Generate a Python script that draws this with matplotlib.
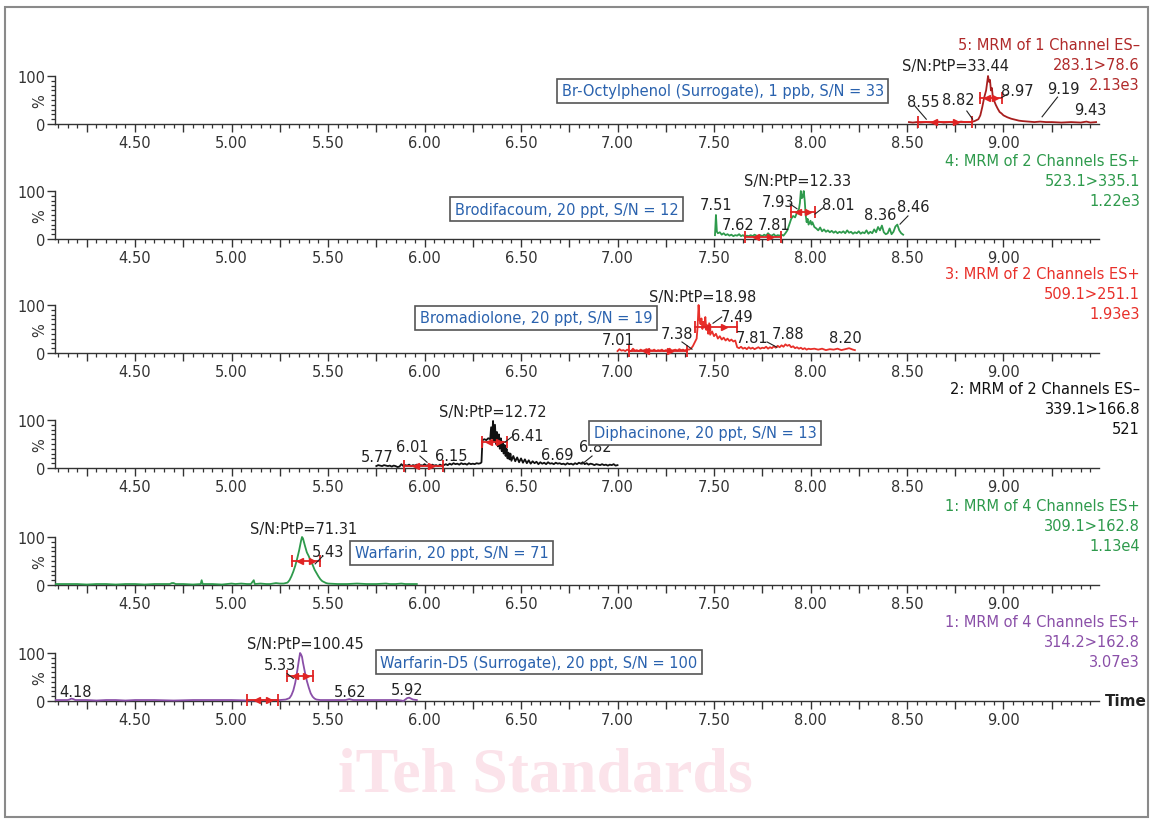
import matplotlib
matplotlib.use("Agg")
import matplotlib.pyplot as plt
from matplotlib.patches import Rectangle
from matplotlib.ticker import FixedLocator, FuncFormatter, MultipleLocator
from matplotlib.transforms import blended_transform_factory, offset_copy

# ---- chromatogram traces: (retention time, relative intensity %) ----
octyl = [(8.51, 4), (8.53, 3), (8.55, 4), (8.57, 3), (8.60, 4), (8.63, 3), (8.66, 5),
         (8.69, 3), (8.72, 4), (8.75, 3), (8.78, 5), (8.80, 4), (8.83, 4), (8.85, 6),
         (8.87, 10), (8.88, 18), (8.89, 35), (8.90, 55), (8.91, 70), (8.915, 85),
         (8.92, 100), (8.925, 88), (8.93, 92), (8.935, 70), (8.94, 75), (8.945, 55),
         (8.95, 50), (8.96, 40), (8.97, 32), (8.98, 25), (8.99, 22), (9.00, 18),
         (9.02, 14), (9.04, 11), (9.06, 9), (9.08, 7), (9.10, 6), (9.13, 5), (9.16, 4),
         (9.19, 5), (9.22, 4), (9.25, 4), (9.30, 3), (9.35, 4), (9.40, 3), (9.43, 5),
         (9.45, 3), (9.48, 4)]

brodifacoum = [(7.505, 8), (7.51, 50), (7.515, 15), (7.52, 12), (7.53, 14), (7.54, 9),
               (7.55, 12), (7.56, 8), (7.57, 10), (7.58, 7), (7.59, 9), (7.60, 6), (7.61, 8),
               (7.62, 7), (7.63, 10), (7.64, 6), (7.65, 8), (7.66, 5), (7.67, 7), (7.68, 6),
               (7.69, 8), (7.70, 6), (7.71, 9), (7.72, 7), (7.73, 6), (7.74, 8), (7.75, 6),
               (7.76, 9), (7.77, 7), (7.78, 12), (7.79, 8), (7.80, 7), (7.81, 10), (7.82, 6),
               (7.83, 8), (7.84, 7), (7.85, 9), (7.86, 7), (7.87, 12), (7.88, 18), (7.89, 30),
               (7.90, 42), (7.91, 48), (7.92, 45), (7.93, 55), (7.94, 62), (7.945, 75),
               (7.95, 100), (7.955, 85), (7.96, 88), (7.965, 100), (7.97, 80), (7.975, 50),
               (7.98, 35), (7.985, 42), (7.99, 30), (8.00, 38), (8.005, 30), (8.01, 35),
               (8.02, 25), (8.03, 22), (8.04, 18), (8.05, 24), (8.06, 16), (8.07, 20),
               (8.08, 15), (8.09, 18), (8.10, 14), (8.11, 17), (8.12, 13), (8.13, 16),
               (8.14, 12), (8.15, 15), (8.16, 13), (8.17, 16), (8.18, 12), (8.19, 18),
               (8.20, 13), (8.21, 15), (8.22, 11), (8.23, 14), (8.24, 12), (8.25, 16),
               (8.26, 11), (8.27, 14), (8.28, 12), (8.29, 18), (8.30, 11), (8.31, 15),
               (8.32, 12), (8.33, 20), (8.34, 14), (8.35, 25), (8.36, 18), (8.37, 28),
               (8.38, 14), (8.39, 10), (8.40, 12), (8.41, 22), (8.42, 10), (8.43, 15),
               (8.44, 26), (8.45, 30), (8.46, 18), (8.47, 12), (8.48, 9)]

bromadiolone = [(7.00, 4), (7.01, 8), (7.02, 5), (7.03, 6), (7.04, 4), (7.05, 7), (7.06, 5),
                (7.07, 4), (7.08, 9), (7.09, 5), (7.10, 6), (7.11, 4), (7.12, 7), (7.13, 5),
                (7.14, 6), (7.15, 8), (7.16, 4), (7.17, 6), (7.18, 5), (7.19, 7), (7.20, 4),
                (7.21, 6), (7.22, 5), (7.23, 7), (7.24, 4), (7.25, 6), (7.26, 5), (7.27, 9),
                (7.28, 5), (7.29, 6), (7.30, 7), (7.31, 5), (7.32, 8), (7.33, 6), (7.34, 7),
                (7.35, 5), (7.36, 8), (7.37, 7), (7.38, 9), (7.39, 14), (7.40, 22), (7.41, 30),
                (7.415, 55), (7.42, 100), (7.425, 70), (7.43, 60), (7.435, 72), (7.44, 50),
                (7.445, 65), (7.45, 55), (7.455, 75), (7.46, 48), (7.465, 58), (7.47, 40),
                (7.475, 62), (7.48, 38), (7.49, 45), (7.50, 35), (7.51, 40), (7.52, 30),
                (7.53, 35), (7.54, 28), (7.55, 32), (7.56, 26), (7.57, 30), (7.58, 25),
                (7.59, 28), (7.60, 24), (7.61, 26), (7.62, 12), (7.63, 10), (7.64, 13),
                (7.65, 9), (7.66, 11), (7.67, 8), (7.68, 12), (7.69, 9), (7.70, 11), (7.71, 8),
                (7.72, 10), (7.73, 12), (7.74, 9), (7.75, 11), (7.76, 10), (7.77, 13),
                (7.78, 9), (7.79, 12), (7.80, 10), (7.81, 14), (7.82, 11), (7.83, 15),
                (7.84, 12), (7.85, 16), (7.86, 13), (7.87, 18), (7.88, 15), (7.89, 17),
                (7.90, 12), (7.91, 14), (7.92, 10), (7.93, 12), (7.94, 9), (7.95, 11),
                (7.96, 8), (7.97, 10), (7.98, 7), (7.99, 9), (8.00, 8), (8.02, 9), (8.04, 7),
                (8.06, 9), (8.08, 6), (8.10, 8), (8.12, 7), (8.14, 9), (8.16, 6), (8.18, 8),
                (8.20, 10), (8.22, 7), (8.23, 6)]

diphacinone = [(5.75, 4), (5.76, 6), (5.77, 5), (5.78, 4), (5.79, 6), (5.80, 5), (5.81, 4),
               (5.82, 5), (5.83, 3), (5.84, 5), (5.85, 4), (5.86, 2), (5.87, 3), (5.88, 8),
               (5.89, 4), (5.90, 6), (5.91, 5), (5.92, 7), (5.93, 4), (5.94, 6), (5.95, 5),
               (5.96, 7), (5.97, 4), (5.98, 6), (5.99, 5), (6.00, 8), (6.01, 5), (6.02, 6),
               (6.03, 4), (6.04, 7), (6.05, 5), (6.06, 6), (6.07, 4), (6.08, 7), (6.09, 5),
               (6.10, 6), (6.11, 8), (6.12, 6), (6.13, 9), (6.14, 7), (6.15, 10), (6.16, 8),
               (6.17, 9), (6.18, 7), (6.19, 10), (6.20, 8), (6.21, 9), (6.22, 7), (6.23, 10),
               (6.24, 8), (6.25, 9), (6.26, 8), (6.27, 10), (6.28, 9), (6.29, 10), (6.295, 12),
               (6.30, 58), (6.31, 60), (6.32, 58), (6.33, 62), (6.34, 60), (6.345, 85),
               (6.35, 62), (6.355, 98), (6.36, 55), (6.365, 90), (6.37, 50), (6.375, 75),
               (6.38, 45), (6.385, 70), (6.39, 40), (6.395, 62), (6.40, 35), (6.405, 55),
               (6.41, 30), (6.415, 48), (6.42, 25), (6.425, 40), (6.43, 20), (6.435, 32),
               (6.44, 18), (6.445, 30), (6.45, 15), (6.46, 25), (6.47, 14), (6.48, 22),
               (6.49, 12), (6.50, 20), (6.51, 11), (6.52, 18), (6.53, 10), (6.54, 16),
               (6.55, 9), (6.56, 14), (6.57, 10), (6.58, 13), (6.59, 8), (6.60, 12), (6.61, 9),
               (6.62, 11), (6.63, 8), (6.64, 12), (6.65, 9), (6.66, 10), (6.67, 8), (6.68, 11),
               (6.69, 9), (6.70, 10), (6.71, 8), (6.72, 9), (6.73, 7), (6.74, 10), (6.75, 8),
               (6.76, 9), (6.77, 7), (6.78, 10), (6.79, 8), (6.80, 11), (6.81, 9), (6.82, 12),
               (6.83, 8), (6.84, 10), (6.85, 7), (6.86, 9), (6.87, 8), (6.88, 6), (6.89, 8),
               (6.90, 7), (6.91, 6), (6.92, 8), (6.93, 6), (6.94, 7), (6.95, 5), (6.96, 7),
               (6.97, 6), (6.98, 8), (6.99, 5), (7.00, 6)]

warfarin = [(4.09, 2), (4.15, 2), (4.20, 2), (4.25, 1), (4.30, 2), (4.35, 2), (4.40, 1),
            (4.45, 2), (4.50, 2), (4.55, 1), (4.60, 2), (4.65, 2), (4.68, 2), (4.69, 4),
            (4.70, 4), (4.71, 2), (4.75, 2), (4.80, 1), (4.84, 2), (4.845, 10), (4.85, 2),
            (4.90, 2), (4.95, 1), (5.00, 3), (5.02, 2), (5.05, 3), (5.08, 2), (5.10, 2),
            (5.115, 10), (5.12, 2), (5.15, 3), (5.18, 2), (5.20, 2), (5.23, 4), (5.25, 3),
            (5.27, 3), (5.29, 5), (5.30, 10), (5.31, 18), (5.32, 28), (5.33, 40), (5.34, 55),
            (5.35, 72), (5.36, 92), (5.365, 100), (5.37, 97), (5.38, 82), (5.39, 68),
            (5.40, 60), (5.41, 50), (5.42, 42), (5.43, 32), (5.44, 25), (5.45, 18),
            (5.46, 12), (5.47, 8), (5.48, 6), (5.49, 4), (5.50, 3), (5.55, 2), (5.60, 2),
            (5.65, 3), (5.70, 2), (5.75, 2), (5.80, 3), (5.82, 2), (5.85, 2), (5.88, 3),
            (5.90, 2), (5.93, 2), (5.96, 2)]

warfarin_d5 = [(4.09, 2), (4.12, 2), (4.15, 2), (4.16, 3), (4.17, 5), (4.18, 4), (4.19, 2),
               (4.22, 2), (4.25, 2), (4.30, 1), (4.35, 2), (4.40, 2), (4.45, 1), (4.50, 2),
               (4.60, 2), (4.70, 1), (4.80, 2), (4.90, 2), (5.00, 2), (5.10, 1), (5.20, 2),
               (5.25, 2), (5.28, 3), (5.30, 6), (5.31, 12), (5.32, 22), (5.33, 38), (5.34, 62),
               (5.35, 88), (5.355, 100), (5.36, 97), (5.365, 92), (5.37, 80), (5.38, 60),
               (5.39, 42), (5.40, 28), (5.41, 16), (5.42, 9), (5.43, 5), (5.44, 3), (5.46, 2),
               (5.50, 2), (5.55, 2), (5.59, 2), (5.60, 3), (5.61, 4), (5.62, 3), (5.63, 2),
               (5.70, 2), (5.80, 2), (5.86, 2), (5.88, 1), (5.89, 0), (5.90, 3), (5.91, 6),
               (5.92, 7), (5.93, 5), (5.94, 3), (5.96, 2)]

channel_info = [
    ("5: MRM of 1 Channel ES\u2013", "283.1>78.6", "2.13e3"),
    ("4: MRM of 2 Channels ES+", "523.1>335.1", "1.22e3"),
    ("3: MRM of 2 Channels ES+", "509.1>251.1", "1.93e3"),
    ("2: MRM of 2 Channels ES\u2013", "339.1>166.8", "521"),
    ("1: MRM of 4 Channels ES+", "309.1>162.8", "1.13e4"),
    ("1: MRM of 4 Channels ES+", "314.2>162.8", "3.07e3"),
]
box_labels = [
    "Br-Octylphenol (Surrogate), 1 ppb, S/N = 33",
    "Brodifacoum, 20 ppt, S/N = 12",
    "Bromadiolone, 20 ppt, S/N = 19",
    "Diphacinone, 20 ppt, S/N = 13",
    "Warfarin, 20 ppt, S/N = 71",
    "Warfarin-D5 (Surrogate), 20 ppt, S/N = 100",
]
sn_labels = ["S/N:PtP=33.44", "S/N:PtP=12.33", "S/N:PtP=18.98",
             "S/N:PtP=12.72", "S/N:PtP=71.31", "S/N:PtP=100.45"]

# ---- layout per panel ----
panels = [
    dict(trace=octyl, color="#a81e1e", tcolor="#b02a2a", base=125,
         box=(7.545, 69), sn=(8.75, 121),
         marks=[("8.55", 8.583, 46), ("8.82", 8.764, 52), ("8.97", 9.07, 69),
                ("9.19", 9.308, 73), ("9.43", 9.45, 31)],
         leaders=[(8.54, 38, 8.60, 10), (8.81, 27, 8.84, 10), (8.99, 55, 9.02, 62),
                  (9.28, 56, 9.20, 15)],
         bars=[(8.557, 8.837, 4), (8.88, 8.99, 55)]),
    dict(trace=brodifacoum, color="#2e9a4c", tcolor="#2e9a4c", base=240,
         box=(6.736, 62), sn=(7.935, 121),
         marks=[("7.51", 7.51, 72), ("7.62", 7.624, 31), ("7.81", 7.81, 31),
                ("7.93", 7.83, 78), ("8.01", 8.142, 71), ("8.36", 8.36, 52),
                ("8.46", 8.53, 67)],
         leaders=[(7.894, 73, 7.93, 63), (8.065, 65, 8.023, 52), (8.505, 48, 8.464, 31)],
         bars=[(7.66, 7.847, 5), (7.897, 8.023, 56)]),
    dict(trace=bromadiolone, color="#e8302a", tcolor="#e8302a", base=354,
         box=(6.578, 73), sn=(7.443, 117),
         marks=[("7.01", 7.003, 29), ("7.38", 7.308, 40), ("7.49", 7.62, 77),
                ("7.81", 7.697, 33), ("7.88", 7.883, 40), ("8.20", 8.18, 33)],
         leaders=[(7.54, 75, 7.495, 62), (7.334, 23, 7.386, 8), (7.775, 23, 7.826, 12)],
         bars=[(7.06, 7.36, 5), (7.40, 7.617, 54)]),
    dict(trace=diphacinone, color="#111111", tcolor="#111111", base=469,
         box=(7.453, 73), sn=(6.355, 117),
         marks=[("5.77", 5.754, 23), ("6.01", 5.935, 44), ("6.15", 6.14, 25),
                ("6.41", 6.53, 67), ("6.69", 6.687, 29), ("6.82", 6.883, 44)],
         leaders=[(6.453, 65, 6.417, 54), (5.976, 25, 6.013, 12), (6.868, 25, 6.816, 8)],
         bars=[(5.894, 6.096, 4), (6.296, 6.426, 54)]),
    dict(trace=warfarin, color="#2e9a4c", tcolor="#2e9a4c", base=586,
         box=(6.14, 67), sn=(5.372, 118),
         marks=[("5.43", 5.50, 69)],
         leaders=[(5.467, 58, 5.433, 44)],
         bars=[(5.312, 5.459, 49)]),
    dict(trace=warfarin_d5, color="#8a4fa8", tcolor="#8a4fa8", base=702,
         box=(6.593, 81), sn=(5.381, 119),
         marks=[("5.33", 5.251, 75), ("4.18", 4.19, 20), ("5.62", 5.614, 20),
                ("5.92", 5.911, 24)],
         leaders=[(5.288, 57, 5.32, 47)],
         bars=[(5.082, 5.243, 3), (5.289, 5.424, 52)]),
]

W, H = 1150, 820
XMIN, XMAX = 4.085, 9.495
FS = 10.5
RED = "#e02424"
AXC = "#333333"


def draw_bar(ax, t0, t1, y):
    ax.plot([t0, t1], [y, y], color=RED, lw=1.3, zorder=4, clip_on=False)
    ax.plot([t0, t1], [y, y], ls="", marker="|", ms=8, mew=1.3, color=RED,
            zorder=4, clip_on=False)
    span = t1 - t0
    ax.plot(t0 + 0.3 * span, y, marker="<", ms=4.5, color=RED, zorder=4, clip_on=False)
    ax.plot(t1 - 0.3 * span, y, marker=">", ms=4.5, color=RED, zorder=4, clip_on=False)


def tick_text(v, _pos):
    return f"{v:.2f}" if abs(v * 2 - round(v * 2)) < 1e-6 else ""


fig = plt.figure(figsize=(W / 100, H / 100), dpi=100)
fig.patches.append(Rectangle((5 / W, 2 / H), 1143 / W, 810 / H, transform=fig.transFigure,
                             fill=False, ec="#8a8a8a", lw=1.5))

fig.text(545 / W, 1 - 777 / H, "iTeh Standards", ha="center", va="center",
         fontsize=46, fontweight="bold", family=["Liberation Serif", "DejaVu Serif"],
         color="#fbe3ea")

for i, p in enumerate(panels):
    ax = fig.add_axes([55 / W, 1 - p["base"] / H, (1099 - 55) / W, 48 / H])
    ax.set_facecolor("none")
    t = [a for a, _ in p["trace"]]
    v = [b for _, b in p["trace"]]
    ax.plot(t, v, color=p["color"], lw=1.3, zorder=3, clip_on=False)

    ax.set_xlim(XMIN, XMAX)
    ax.set_ylim(0, 100)
    for s in ("top", "right"):
        ax.spines[s].set_visible(False)
    for s in ("left", "bottom"):
        ax.spines[s].set_color(AXC)
        ax.spines[s].set_linewidth(1.0)

    ax.xaxis.set_major_locator(FixedLocator([4.25 + 0.25 * k for k in range(21)]))
    ax.xaxis.set_major_formatter(FuncFormatter(tick_text))
    ax.xaxis.set_minor_locator(MultipleLocator(0.05))
    ax.yaxis.set_major_locator(FixedLocator([0, 100]))
    ax.yaxis.set_minor_locator(MultipleLocator(10))
    ax.tick_params(axis="x", which="major", length=6, width=1.0, color=AXC,
                   labelsize=FS, labelcolor=AXC, pad=2)
    ax.tick_params(axis="x", which="minor", length=3, width=0.9, color=AXC)
    ax.tick_params(axis="y", which="major", length=6, width=1.0, color=AXC,
                   labelsize=FS, labelcolor=AXC, pad=1)
    ax.tick_params(axis="y", which="minor", length=3, width=0.9, color=AXC)

    # "%" sits between the 0 and 100 labels, close to the spine
    pct_tr = offset_copy(ax.transAxes, fig=fig, x=-15, y=0, units="dots")
    ax.text(0, 0.5, "%", transform=pct_tr, rotation=90, ha="center", va="center",
            fontsize=FS, color=AXC)

    # channel description at the right
    tr = blended_transform_factory(fig.transFigure, ax.transAxes)
    for line, yy in zip(channel_info[i], (1 + 31 / 48, 1 + 11 / 48, 1 - 9 / 48)):
        ax.text(1140 / W, yy, line, transform=tr, ha="right", va="center",
                fontsize=FS, color=p["tcolor"])

    # compound box
    bx, by = p["box"]
    ax.text(bx, by, box_labels[i], ha="center", va="center", fontsize=FS,
            color="#2a62ae", zorder=6,
            bbox=dict(boxstyle="square,pad=0.3", fc="white", ec="#555555", lw=1.2))

    sx, sy = p["sn"]
    ax.text(sx, sy, sn_labels[i], ha="center", va="center", fontsize=FS,
            color="#222222", zorder=5, clip_on=False)
    for txt, mx, my in p["marks"]:
        ax.text(mx, my, txt, ha="center", va="center", fontsize=FS, color="#222222",
                zorder=5, clip_on=False)
    for x0, y0, x1, y1 in p["leaders"]:
        ax.plot([x0, x1], [y0, y1], color="#222222", lw=0.8, zorder=5, clip_on=False)
    for t0, t1, yb in p["bars"]:
        draw_bar(ax, t0, t1, yb)

    if i == len(panels) - 1:
        ax.text(1105 / W, 0, "Time", transform=tr, ha="left", va="center",
                fontsize=FS + 0.5, fontweight="bold", color="#222222")

fig.savefig("out.png", dpi=100)
